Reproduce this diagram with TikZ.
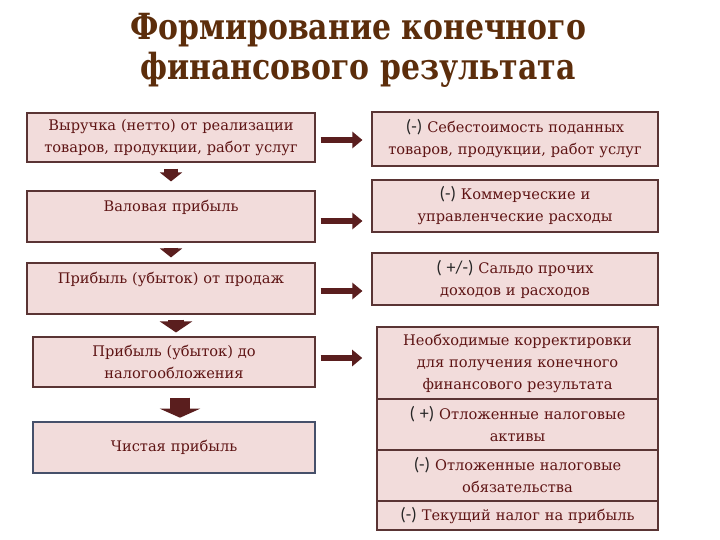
\documentclass[tikz,border=0pt]{standalone}
\usepackage{fontspec}
\setmainfont{DejaVu Serif}
\newfontfamily\titlefont{DejaVu Serif}
\newfontfamily\signfont{Carlito}
\usetikzlibrary{arrows.meta}
\definecolor{boxfill}{HTML}{F2DCDB}
\definecolor{boxline}{HTML}{5A3434}
\definecolor{txtred}{HTML}{5E1414}
\definecolor{titlebrown}{HTML}{5C2D0B}
\definecolor{arrowcol}{HTML}{5A1E1E}
\definecolor{slate}{HTML}{46506A}
\newcommand{\sgn}[1]{{\signfont\fontsize{18}{20}\selectfont\color{black!85}#1}}
\newcommand{\ttl}[1]{\scalebox{0.83}[1]{#1}}
\tikzset{
  box/.style={draw=boxline, line width=1.1pt, fill=boxfill, inner sep=0pt, align=center,
    font=\fontsize{14.6}{22}\selectfont, text=txtred},
  harrow/.style={draw=arrowcol, line width=6.5pt, -{Triangle[length=10pt,width=16pt]}},
  varrow/.style={draw=arrowcol, line width=14pt, -{Triangle[length=9pt,width=22pt]}},
  vbig/.style={draw=arrowcol, line width=20pt, -{Triangle[length=9pt,width=40pt]}},
  titletxt/.style={font=\titlefont\bfseries\fontsize{36}{40}\selectfont, text=titlebrown, inner sep=0pt, anchor=base}
}
\begin{document}
\begin{tikzpicture}[x=1pt,y=-1pt]
\useasboundingbox[fill=white] (0,0) rectangle (720,540);
% title
\node[titletxt] (t1) at (358,40) {\ttl{Формирование конечного}};
\node[titletxt] (t2) at (358,80) {\ttl{финансового результата}};
% left column
\node[box, minimum width=288pt, minimum height=49pt, text width=286pt] (L1) at (171,137.5)
  {Выручка (нетто) от реализации\\товаров, продукции, работ услуг};
\node[box, minimum width=288pt, minimum height=51pt, text width=280pt] (L2) at (171,216.5)
  {Валовая прибыль\\\mbox{}};
\node[box, minimum width=288pt, minimum height=51pt, text width=280pt] (L3) at (171,288.5)
  {Прибыль (убыток) от продаж\\\mbox{}};
\node[box, minimum width=282pt, minimum height=50pt, text width=274pt] (L4) at (174,362)
  {Прибыль (убыток) до\\налогообложения};
\node[box, draw=slate, line width=2.6pt, minimum width=282pt, minimum height=51pt, text width=274pt] (L5) at (174,447.5)
  {Чистая прибыль};
% right column
\node[box, minimum width=286pt, minimum height=54pt, text width=284pt] (R1) at (515,139)
  {\sgn{(-)} Себестоимость поданных\\товаров, продукции, работ услуг};
\node[box, minimum width=286pt, minimum height=52pt, text width=280pt] (R2) at (515,206)
  {\sgn{(-)} Коммерческие и\\управленческие расходы};
\node[box, minimum width=286pt, minimum height=52pt, text width=280pt] (R3) at (515,279)
  {\sgn{( +/-)} Сальдо прочих\\доходов и расходов};
% table
\node[box, line width=1.6pt, minimum width=281pt, minimum height=72pt, text width=278pt] (T1) at (517.5,363)
  {Необходимые корректировки\\для получения конечного\\финансового результата};
\node[box, line width=1.6pt, minimum width=281pt, minimum height=51pt, text width=278pt] (T2) at (517.5,424.5)
  {\sgn{( +)} Отложенные налоговые\\активы};
\node[box, line width=1.3pt, minimum width=281pt, minimum height=51pt, text width=278pt] (T3) at (517.5,475.5)
  {\sgn{(-)} Отложенные налоговые\\обязательства};
\node[box, line width=1.3pt, minimum width=281pt, minimum height=29pt, text width=281pt] (T4) at (517.5,515.5)
  {\sgn{(-)} Текущий налог на прибыль};
% horizontal arrows
\draw[harrow, shorten <=5pt, shorten >=9pt] ([yshift=-2.5pt]L1.east) -- ([yshift=-2.5pt]L1.east -| R1.west);
\draw[harrow, shorten <=5pt, shorten >=9pt] ([yshift=-4.5pt]L2.east) -- ([yshift=-4.5pt]L2.east -| R2.west);
\draw[harrow, shorten <=5pt, shorten >=9pt] ([yshift=-2.5pt]L3.east) -- ([yshift=-2.5pt]L3.east -| R3.west);
\draw[harrow, shorten <=5pt, shorten >=14pt] ([yshift=4pt]L4.east) -- ([yshift=4pt]L4.east -| T1.west);
% vertical arrows
\draw[varrow, shorten <=6pt, shorten >=9pt] (L1.south) -- (L2.north);
\draw[varrow, shorten <=5pt, shorten >=5pt] (L2.south) -- (L3.north);
\draw[varrow, line width=16pt, -{Triangle[length=11pt,width=32pt]}, shorten <=5pt, shorten >=4pt] ([xshift=5pt]L3.south) -- ([xshift=2pt]L4.north);
\draw[vbig, shorten <=10pt, shorten >=3pt] ([xshift=6pt]L4.south) -- ([xshift=6pt]L5.north);
\end{tikzpicture}
\end{document}
